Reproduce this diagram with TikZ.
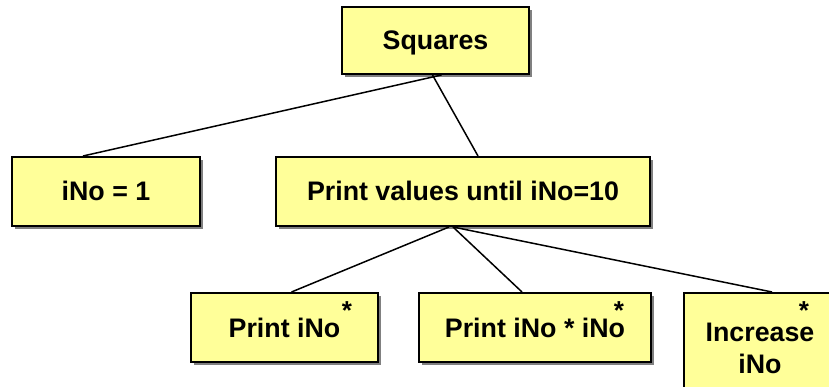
\documentclass[tikz,border=0pt]{standalone}
\usepackage{fontspec}
\setmainfont{Liberation Sans}
\usetikzlibrary{shadows}
\definecolor{boxfill}{HTML}{FFFF99}
\definecolor{shadowgray}{HTML}{808080}
\tikzset{
  box/.style={draw=black, line width=2pt, fill=boxfill, inner sep=0pt,
    font=\fontsize{26.8}{32}\selectfont\bfseries, align=center,
    drop shadow={shadow xshift=3pt, shadow yshift=-3pt, fill=shadowgray, opacity=1}},
  oneline/.style={box, text height=19pt, text depth=0pt},
  star/.style={inner sep=0pt, font=\fontsize{26}{32}\selectfont\bfseries, anchor=base},
  link/.style={draw=black, line width=1.5pt}
}
\begin{document}
\begin{tikzpicture}[x=1pt,y=-1pt]
\useasboundingbox (0,0) rectangle (829,387);
\fill[white] (0,0) rectangle (829,387);
\clip (0,0) rectangle (829,387);
\node[oneline, minimum width=187pt, minimum height=67pt] (sq) at (435.5,40.5) {Squares};
\node[oneline, minimum width=188pt, minimum height=69pt] (ino) at (106,191.5) {iNo = 1};
\node[oneline, minimum width=374pt, minimum height=69pt] (pv) at (463,191.5) {Print values until iNo=10};
\node[oneline, minimum width=187pt, minimum height=69pt] (pi) at (284.5,327.5) {Print iNo};
\node[oneline, minimum width=232pt, minimum height=69pt] (pii) at (535,327.5) {Print iNo * iNo};
\node[box, minimum width=152pt, minimum height=110pt] (inc) at (760,348) {Increase\\iNo};
\node[star] (s1) at (347,319) {*};
\node[star] (s2) at (619,319) {*};
\node[star] (s3) at (804,319) {*};
\draw[link] ([xshift=6pt]sq.south) -- ([xshift=-23pt]ino.north);
\draw[link] ([xshift=-3pt]sq.south) -- ([xshift=15pt]pv.north);
\draw[link] ([xshift=-14pt]pv.south) -- ([xshift=7pt]pi.north);
\draw[link] ([xshift=-10pt]pv.south) -- ([xshift=-13pt]pii.north);
\draw[link] ([xshift=-10pt]pv.south) -- ([xshift=12pt]inc.north);
\end{tikzpicture}
\end{document}
